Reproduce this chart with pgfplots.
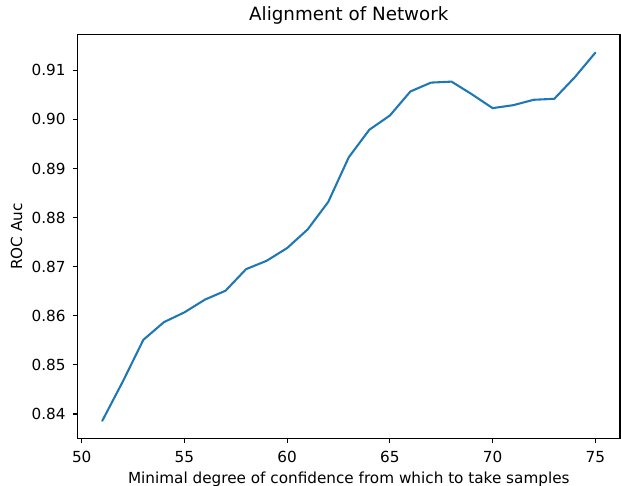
\documentclass[border=0pt]{standalone}
\usepackage{fontspec}
\setmainfont{DejaVu Sans}
\usepackage{pgfplots}
\pgfplotsset{compat=1.18}
\definecolor{mplblue}{HTML}{1F77B4}
\pgfplotstableread{
x y
51 0.8386
52 0.8466
53 0.8551
54 0.8587
55 0.8607
56 0.8633
57 0.8651
58 0.8695
59 0.8712
60 0.8738
61 0.8776
62 0.8832
63 0.8923
64 0.8979
65 0.9008
66 0.9057
67 0.9075
68 0.9077
69 0.9051
70 0.9023
71 0.9029
72 0.9040
73 0.9042
74 0.9086
75 0.9136
}\datatable
\begin{document}
\begin{tikzpicture}
\useasboundingbox (-77.6bp,-47.5bp) rectangle (543.4bp,438.5bp);
\begin{axis}[
  at={(0,0)}, anchor=south west,
  scale only axis, width=542.4bp, height=404bp,
  xmin=49.8, xmax=76.2, ymin=0.835, ymax=0.9173,
  xtick={50,55,60,65,70,75},
  ytick={0.84,0.85,0.86,0.87,0.88,0.89,0.90,0.91},
  tick pos=left,
  tick align=outside,
  major tick length=4.86bp,
  tick style={black, line width=1.11bp},
  axis line style={black, line width=1.11bp},
  font=\fontsize{15.3}{18}\selectfont,
  tick label style={font=\fontsize{15.3}{18}\selectfont},
  /pgf/number format/assume math mode=true,
  scaled y ticks=false,
  xticklabel style={anchor=north, inner sep=0pt, yshift=-7.6bp},
  yticklabel style={anchor=east, inner sep=0pt, xshift=-7bp, /pgf/number format/fixed, /pgf/number format/fixed zerofill, /pgf/number format/precision=2},
  title={Alignment of Network},
  title style={font=\fontsize{18.35}{22}\selectfont, at={(0.5,1)}, anchor=base, yshift=8.5bp},
  xlabel={Minimal degree of confidence from which to take samples},
  ylabel={ROC Auc},
  xlabel style={at={(axis description cs:0.5,0)}, anchor=base, yshift=-44.5bp},
  ylabel style={at={(axis description cs:0,0.5)}, anchor=center, yshift=61bp},
]
\addplot[mplblue, line width=2.08bp, line join=round, line cap=round] table[x=x,y=y] {\datatable};
\end{axis}
\end{tikzpicture}
\end{document}
